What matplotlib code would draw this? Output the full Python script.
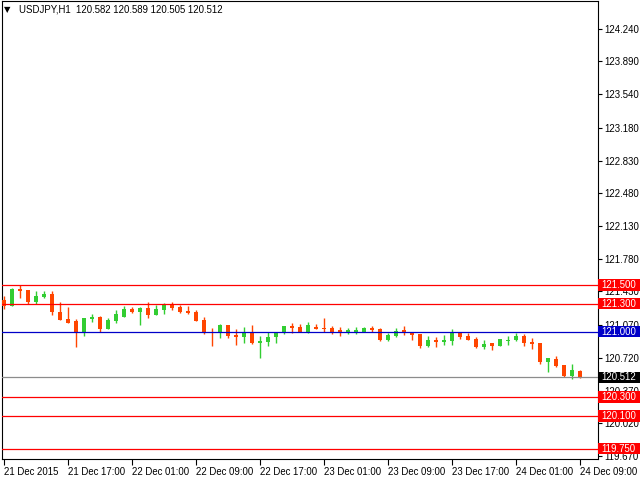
"""
USDJPY H1 candles with support/resistance lines, MT4 style.
"""

import matplotlib
matplotlib.use('Agg')
import matplotlib.pyplot as plt
from matplotlib.patches import Rectangle
from matplotlib.transforms import blended_transform_factory

plt.rcParams['font.family'] = ['Liberation Sans', 'DejaVu Sans']

symbol = 'USDJPY,H1'

# hourly bars, 21 Dec 09:00 -> 24 Dec 09:00
opens = [121.336, 121.275, 121.454, 121.443, 121.314, 121.371, 121.400, 121.214, 121.132, 121.111,
         121.000, 121.136, 121.154, 121.025, 121.111, 121.154, 121.239, 121.207, 121.250, 121.175,
         121.229, 121.282, 121.261, 121.218, 121.207, 121.121, 121.000, 120.989, 121.068, 120.964,
         120.943, 121.000, 120.879, 120.889, 120.939, 121.000, 121.057, 121.046, 121.000, 121.046,
         121.036, 121.036, 121.014, 121.000, 121.000, 121.000, 121.036, 121.025, 120.907, 120.950,
         121.014, 120.993, 120.971, 120.846, 120.907, 120.886, 120.900, 120.982, 120.950, 120.918,
         120.836, 120.875, 120.846, 120.904, 120.911, 120.950, 120.886, 120.875, 120.675, 120.704,
         120.639, 120.521, 120.582]
highs = [121.379, 121.471, 121.500, 121.445, 121.432, 121.432, 121.432, 121.321, 121.261, 121.132,
         121.143, 121.186, 121.164, 121.143, 121.229, 121.271, 121.261, 121.261, 121.314, 121.282,
         121.304, 121.314, 121.282, 121.271, 121.229, 121.154, 121.036, 121.079, 121.068, 121.025,
         121.046, 121.068, 120.950, 121.000, 121.000, 121.057, 121.089, 121.079, 121.100, 121.079,
         121.143, 121.057, 121.046, 121.036, 121.046, 121.046, 121.057, 121.036, 120.982, 121.036,
         121.057, 121.000, 120.971, 120.950, 120.939, 120.961, 121.025, 120.993, 120.982, 120.939,
         120.907, 120.875, 120.918, 120.950, 120.982, 120.971, 120.929, 120.875, 120.714, 120.736,
         120.639, 120.650, 120.589]
lows = [121.243, 121.275, 121.361, 121.300, 121.300, 121.357, 121.175, 121.121, 121.093, 120.836,
        120.954, 121.104, 121.000, 121.025, 121.093, 121.154, 121.196, 121.068, 121.143, 121.175,
        121.186, 121.229, 121.196, 121.186, 121.111, 120.979, 120.843, 120.929, 120.929, 120.854,
        120.875, 120.864, 120.714, 120.843, 120.879, 120.971, 120.982, 121.000, 120.982, 121.025,
        121.000, 120.971, 120.950, 120.971, 120.971, 121.000, 121.000, 120.896, 120.896, 120.939,
        120.964, 120.911, 120.825, 120.836, 120.836, 120.857, 120.857, 120.921, 120.911, 120.825,
        120.814, 120.804, 120.846, 120.857, 120.900, 120.846, 120.814, 120.654, 120.568, 120.621,
        120.511, 120.493, 120.505]
closes = [121.275, 121.454, 121.436, 121.314, 121.379, 121.400, 121.207, 121.121, 121.093, 121.000,
          121.143, 121.154, 121.025, 121.121, 121.186, 121.239, 121.207, 121.250, 121.175, 121.239,
          121.282, 121.254, 121.207, 121.196, 121.111, 120.989, 120.986, 121.068, 120.954, 120.943,
          121.000, 120.879, 120.896, 120.939, 120.993, 121.057, 121.036, 121.000, 121.068, 121.025,
          121.025, 121.000, 121.000, 121.014, 121.014, 121.036, 121.014, 120.907, 120.961, 121.011,
          120.989, 120.964, 120.846, 120.907, 120.886, 120.907, 120.982, 120.939, 120.911, 120.836,
          120.864, 120.846, 120.918, 120.911, 120.950, 120.879, 120.868, 120.675, 120.714, 120.632,
          120.521, 120.586, 120.512]

x_labels = ['21 Dec 2015', '21 Dec 17:00', '22 Dec 01:00', '22 Dec 09:00', '22 Dec 17:00',
            '23 Dec 01:00', '23 Dec 09:00', '23 Dec 17:00', '24 Dec 01:00', '24 Dec 09:00']
x_label_bars = [0, 8, 16, 24, 32, 40, 48, 56, 64, 72]

y_ticks = [124.240, 123.890, 123.540, 123.180, 122.830, 122.480, 122.130, 121.780,
           121.430, 121.070, 120.720, 120.370, 120.020, 119.670]

levels = [121.500, 121.300, 121.000, 120.300, 120.100, 119.750]
level_colors = ['#ff0000', '#ff0000', '#0000c8', '#ff0000', '#ff0000', '#ff0000']
last_price = closes[-1]

UP = '#32cd32'
DOWN = '#ff4500'
FS = 6.9

fig = plt.figure(figsize=(6.4, 4.8), dpi=100)
ax = fig.add_axes([2 / 640, 20.7 / 480, 595.5 / 640, 458.3 / 480])

# candles
idx = list(range(len(opens)))
colors = [UP if c > o else DOWN for o, c in zip(opens, closes)]
ax.vlines(idx, lows, highs, colors=colors, linewidth=1.0, zorder=2)
bottoms = [min(o, c) for o, c in zip(opens, closes)]
heights = [max(abs(c - o), 0.012) for o, c in zip(opens, closes)]
ax.bar(idx, heights, bottom=bottoms, width=0.62, color=colors, linewidth=0, zorder=3)

# horizontal levels + current price
for lv, col in zip(levels, level_colors):
    ax.axhline(lv, color=col, linewidth=0.9, zorder=4)
ax.axhline(last_price, color='#8c8c8c', linewidth=0.9, zorder=4)

ax.set_xlim(-0.25, 74.19)
ax.set_ylim(119.635, 124.536)

ax.yaxis.tick_right()
ax.set_yticks(y_ticks)
ax.set_yticklabels(['%.3f' % v for v in y_ticks])
ax.tick_params(axis='y', direction='out', length=3, width=0.8, labelsize=FS, pad=2)
ax.set_xticks(x_label_bars)
ax.set_xticklabels(x_labels, ha='left')
ax.tick_params(axis='x', direction='out', length=4, width=0.8, labelsize=FS, pad=1.5)
for sp in ax.spines.values():
    sp.set_color('black')
    sp.set_linewidth(0.8)

# price tags on the right axis
trans = blended_transform_factory(fig.transFigure, ax.transData)
box_h = 11.5 / 93.5
tags = list(zip(levels, level_colors)) + [(last_price, 'black')]
for lv, col in tags:
    ax.add_patch(Rectangle((598 / 640, lv - box_h / 2), 42 / 640, box_h, transform=trans,
                           facecolor=col, edgecolor='none', clip_on=False, zorder=10))
    ax.text(601 / 640, lv, '%.3f' % lv, transform=trans, color='white', fontsize=FS,
            va='center', ha='left', clip_on=False, zorder=11)

# header
fig.text(4 / 640, 1 - 10 / 480, '\u25bc', fontsize=6, va='center', ha='left',
         family='DejaVu Sans')
fig.text(19 / 640, 1 - 10 / 480, '%s  %.3f %.3f %.3f %.3f' % (symbol, opens[-1], highs[-1], lows[-1], closes[-1]),
         fontsize=FS, va='center', ha='left')

fig.savefig('out.png', dpi=100)
